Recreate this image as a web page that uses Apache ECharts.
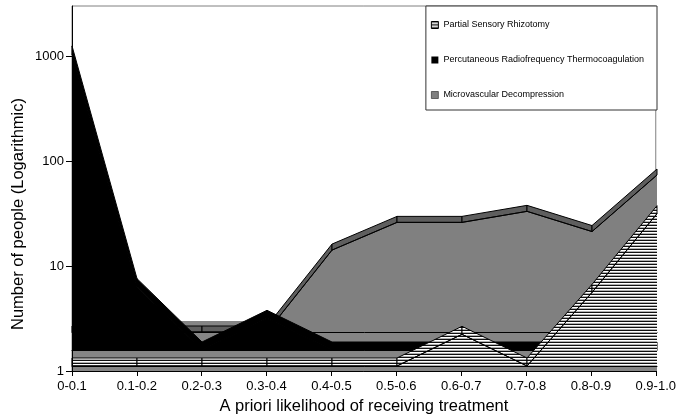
<!DOCTYPE html>
<html>
<head>
<meta charset="utf-8">
<script src="https://cdn.jsdelivr.net/npm/echarts@6/dist/echarts.min.js"></script>
<style>html,body{margin:0;padding:0;background:#fff}#c{width:679px;height:420px}</style>
</head>
<body>
<div id="c"></div>
<script>
// ---- data ----
const categories = ['0-0.1','0.1-0.2','0.2-0.3','0.3-0.4','0.4-0.5','0.5-0.6','0.6-0.7','0.7-0.8','0.8-0.9','0.9-1.0'];
const partialSensory = [1, 1, 1, 1, 1, 1, 2, 1, 5, 28];
const percutaneousRF = [650, 4, 1, 2, 1, 1, 1, 1, 1, 1];
const microvascular = [1, 1, 1, 1, 6, 11, 11, 14, 9, 31];
const yTickValues = [1, 10, 100, 1000];
const seriesNames = ['Partial Sensory Rhizotomy', 'Percutaneous Radiofrequency Thermocoagulation', 'Microvascular Decompression'];

// ---- styles ----
const FONT = 'Liberation Sans, Arial, Helvetica, sans-serif';
function stripeCanvas() {
  const c = document.createElement('canvas');
  c.width = 4; c.height = 3;
  const g = c.getContext('2d');
  g.fillStyle = '#ffffff'; g.fillRect(0, 0, 4, 3);
  g.fillStyle = '#111111'; g.fillRect(0, 0, 4, 1);
  g.fillStyle = '#b0b0b0'; g.fillRect(0, 2, 4, 1);
  return c;
}
const stripes = { image: stripeCanvas(), repeat: 'repeat' };

function segments(arr) {
  const out = [];
  for (let i = 0; i < arr.length - 1; i++) out.push([i, arr[i], arr[i + 1]]);
  return out;
}
function topFace(depth, fill) {
  return function (params, api) {
    const i = api.value(0);
    const p0 = api.coord([i, api.value(1)]);
    const p1 = api.coord([i + 1, api.value(2)]);
    return {
      type: 'polygon',
      shape: { points: [p0, p1, [p1[0], p1[1] - depth], [p0[0], p0[1] - depth]] },
      style: { fill: fill, stroke: '#000', lineWidth: 1 }
    };
  };
}

const L = 72, R = 22, TOP = 6, AXIS_Y = 372, YMAX = 3000;
const pxPerDecade = (AXIS_Y - TOP) / Math.log10(YMAX);
// series layers (back to front): pixel row of value 1 for each depth row
const layers = [
  { name: seriesNames[2], data: microvascular, base: 332, depth: 6, front: '#808080', top: '#5e5e5e', z: 2 },
  { name: seriesNames[1], data: percutaneousRF, base: 350, depth: 8, front: '#000000', top: '#000000', z: 5 },
  { name: seriesNames[0], data: partialSensory, base: 366, depth: 8, front: stripes, top: stripes, z: 8 }
];

const grid = [
  { left: L, right: R, top: TOP, bottom: 420 - AXIS_Y, show: true, borderColor: '#808080', borderWidth: 1, backgroundColor: 'transparent', z: 0 },
  { left: L, right: R, top: 321, bottom: 420 - 371, show: true, backgroundColor: '#858585', borderWidth: 0, z: 0 }
];
const xAxis = [
  {
    gridIndex: 0, type: 'category', data: categories, boundaryGap: false, z: 20,
    axisLine: { lineStyle: { color: '#000', width: 1 } },
    axisTick: { length: 5, lineStyle: { color: '#000' } },
    axisLabel: { color: '#000', fontSize: 13, fontFamily: FONT, margin: 9, interval: 0 },
    name: 'A priori likelihood of receiving treatment', nameLocation: 'middle', nameGap: 27,
    nameTextStyle: { color: '#000', fontSize: 16.5, fontFamily: FONT }
  },
  { gridIndex: 1, type: 'category', data: categories, boundaryGap: false, show: false }
];
const yAxis = [
  {
    gridIndex: 0, type: 'log', min: 1, max: YMAX, logBase: 10, z: 20,
    axisLine: { show: true, lineStyle: { color: '#000', width: 1 } },
    axisTick: { show: true, length: 6, lineStyle: { color: '#000' }, customValues: yTickValues },
    axisLabel: { color: '#000', fontSize: 13, fontFamily: FONT, margin: 8, customValues: yTickValues, formatter: v => String(Math.round(v)) },
    splitLine: { show: false }
  },
  { gridIndex: 1, type: 'value', show: false }
];
const series = [];
layers.forEach((ly) => {
  const gi = grid.length;
  grid.push({ left: L, right: R, top: TOP, bottom: 420 - ly.base, show: false });
  xAxis.push({
    gridIndex: gi, type: 'category', data: categories, boundaryGap: false, z: ly.z + 1,
    axisLine: { show: true, lineStyle: { color: '#000', width: 1 } },
    axisTick: { show: false }, axisLabel: { show: false }, splitLine: { show: false }
  });
  yAxis.push({ gridIndex: gi, type: 'log', min: 1, max: Math.pow(10, (ly.base - TOP) / pxPerDecade), show: false, splitLine: { show: false } });
  series.push({
    name: ly.name, type: 'line', xAxisIndex: gi, yAxisIndex: gi, data: ly.data, z: ly.z,
    symbol: 'none', silent: true, animation: false,
    lineStyle: { color: '#000', width: 1 },
    itemStyle: { color: ly.front },
    areaStyle: { color: ly.front, opacity: 1, origin: 'start' }
  });
  series.push({
    name: ly.name + ' (top)', type: 'custom', xAxisIndex: gi, yAxisIndex: gi, z: ly.z,
    data: segments(ly.data), encode: { x: 0, y: [1, 2] }, silent: true, animation: false,
    renderItem: topFace(ly.depth, ly.top)
  });
});

const chart = echarts.init(document.getElementById('c'), null, { renderer: 'canvas' });
chart.setOption({
  backgroundColor: '#ffffff',
  animation: false,
  textStyle: { fontFamily: FONT },
  grid: grid,
  xAxis: xAxis,
  yAxis: yAxis,
  legend: {
    orient: 'vertical', right: R, top: 6, z: 30,
    padding: [14, 13, 10, 5], itemGap: 25, itemWidth: 7, itemHeight: 7,
    backgroundColor: '#ffffff', borderColor: '#333', borderWidth: 1, borderRadius: 0,
    selectedMode: false,
    textStyle: { fontSize: 9, lineHeight: 10, color: '#000', fontFamily: FONT },
    data: [
      { name: seriesNames[0], icon: 'rect', itemStyle: { color: stripes, borderColor: '#000', borderWidth: 1 } },
      { name: seriesNames[1], icon: 'rect', itemStyle: { color: '#000' } },
      { name: seriesNames[2], icon: 'rect', itemStyle: { color: '#808080', borderColor: '#000', borderWidth: 0.5 } }
    ]
  },
  graphic: [{
    type: 'text', x: 18, y: 214, rotation: Math.PI / 2,
    style: { text: 'Number of people (Logarithmic)', font: '16.5px ' + FONT, fill: '#000', textAlign: 'center', textVerticalAlign: 'middle' }
  }],
  series: series
});
</script>
</body>
</html>
